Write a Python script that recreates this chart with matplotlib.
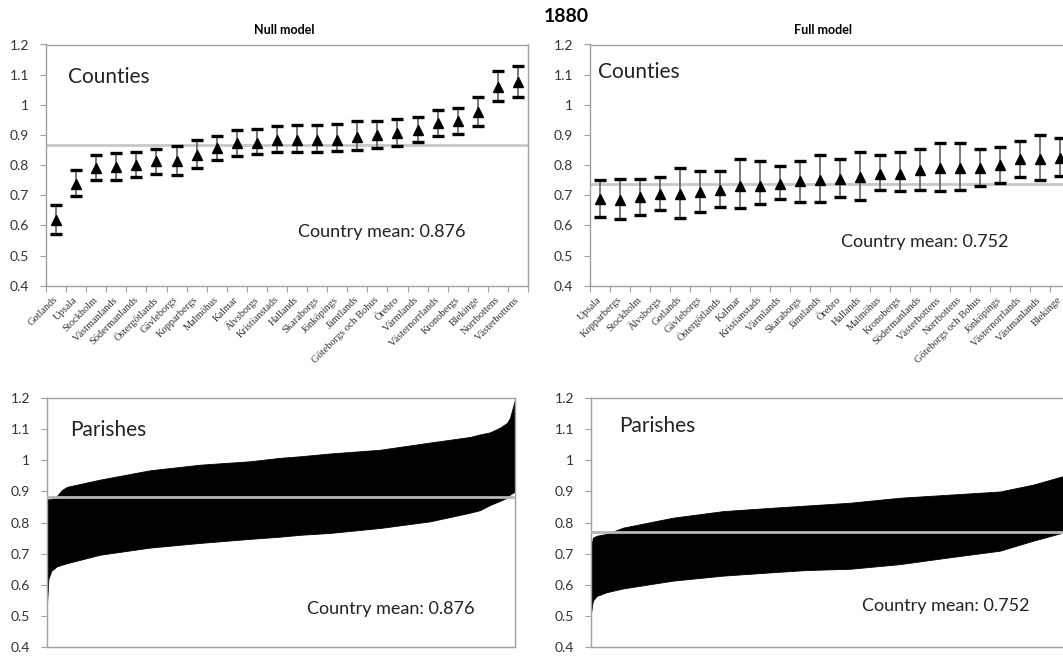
import matplotlib
matplotlib.use("Agg")
import matplotlib.pyplot as plt
import numpy as np

# ---------------- data ----------------
null_counties = ["Gotlands", "Upsala", "Stockholm", "Västmanlands", "Södermanlands",
                 "Östergötlands", "Gävleborgs", "Kopparbergs", "Malmöhus", "Kalmar",
                 "Älvsborgs", "Kristianstads", "Hallands", "Skaraborgs", "Jönköpings",
                 "Jämtlands", "Göteborgs och Bohus", "Örebro", "Värmlands",
                 "Västernorrlands", "Kronobergs", "Blekinge", "Norrbottens", "Västerbottens"]
null_mid = [0.618, 0.738, 0.790, 0.795, 0.801, 0.812, 0.812, 0.834, 0.856, 0.873,
            0.873, 0.884, 0.884, 0.884, 0.884, 0.892, 0.900, 0.908, 0.917, 0.940,
            0.945, 0.975, 1.058, 1.074]
null_hi = [0.668, 0.784, 0.834, 0.840, 0.845, 0.854, 0.862, 0.882, 0.898, 0.915,
           0.920, 0.931, 0.934, 0.934, 0.937, 0.945, 0.947, 0.953, 0.958, 0.984,
           0.991, 1.025, 1.111, 1.128]
null_lo = [0.572, 0.699, 0.749, 0.751, 0.759, 0.770, 0.768, 0.792, 0.818, 0.829,
           0.837, 0.845, 0.845, 0.845, 0.847, 0.851, 0.858, 0.862, 0.875, 0.895,
           0.903, 0.931, 1.011, 1.026]

full_counties = ["Upsala", "Kopparbergs", "Stockholm", "Älvsborgs", "Gotlands",
                 "Gävleborgs", "Östergötlands", "Kalmar", "Kristianstads", "Värmlands",
                 "Skaraborgs", "Jämtlands", "Örebro", "Hallands", "Malmöhus",
                 "Kronobergs", "Södermanlands", "Västerbottens", "Norrbottens",
                 "Göteborgs och Bohus", "Jönköpings", "Västernorrlands",
                 "Västmanlands", "Blekinge"]
full_mid = [0.686, 0.684, 0.693, 0.704, 0.704, 0.711, 0.717, 0.730, 0.730, 0.737,
            0.747, 0.751, 0.753, 0.761, 0.770, 0.772, 0.783, 0.792, 0.792, 0.792,
            0.799, 0.819, 0.819, 0.825]
full_hi = [0.750, 0.754, 0.754, 0.761, 0.792, 0.781, 0.781, 0.819, 0.813, 0.796,
           0.814, 0.833, 0.819, 0.844, 0.833, 0.842, 0.852, 0.872, 0.872, 0.855,
           0.860, 0.880, 0.899, 0.890]
full_lo = [0.628, 0.620, 0.635, 0.651, 0.623, 0.646, 0.662, 0.658, 0.670, 0.687,
           0.678, 0.678, 0.693, 0.684, 0.717, 0.714, 0.719, 0.715, 0.719, 0.732,
           0.741, 0.761, 0.750, 0.763]

# parish intervals, envelope read at percentile rank positions
null_par_rank = [0, 0.3, 0.9, 2.1, 3.2, 4.3, 11.3, 22.0, 32.7, 43.4, 49.8, 54.1, 60.5,
                 71.2, 81.8, 90.4, 92.5, 94.7, 96.8, 98.3, 98.9, 100]
null_par_hi = [0.875, 0.875, 0.875, 0.885, 0.905, 0.915, 0.938, 0.968, 0.986, 0.997,
               1.008, 1.013, 1.022, 1.034, 1.057, 1.075, 1.083, 1.090, 1.105, 1.120,
               1.135, 1.195]
null_par_lo = [0.540, 0.620, 0.645, 0.660, 0.665, 0.670, 0.697, 0.720, 0.735, 0.748,
               0.755, 0.761, 0.767, 0.783, 0.804, 0.832, 0.840, 0.857, 0.870, 0.880,
               0.890, 0.900]

full_par_rank = [0, 0.4, 1.2, 3.3, 6.7, 17.1, 27.5, 37.9, 45.0, 54.0, 64.4, 74.8,
                 85.2, 92.1, 98.3]
full_par_hi = [0.720, 0.752, 0.758, 0.764, 0.784, 0.816, 0.837, 0.848, 0.855, 0.864,
               0.880, 0.890, 0.900, 0.922, 0.949]
full_par_lo = [0.510, 0.550, 0.565, 0.577, 0.589, 0.614, 0.630, 0.641, 0.648, 0.652,
               0.667, 0.689, 0.710, 0.742, 0.768]

mean_lines = {"null_c": 0.867, "full_c": 0.736, "null_p": 0.881, "full_p": 0.771}
mean_labels = {"null": "Country mean: 0.876", "full": "Country mean: 0.752"}
yticks = [0.4, 0.5, 0.6, 0.7, 0.8, 0.9, 1.0, 1.1, 1.2]
ytick_labels = ["0.4", "0.5", "0.6", "0.7", "0.8", "0.9", "1", "1.1", "1.2"]

# ---------------- figure ----------------
W, H = 1063, 659
fig = plt.figure(figsize=(W / 100, H / 100), dpi=100)
SANS = ["Lato", "DejaVu Sans"]
SERIF = ["Liberation Serif", "DejaVu Serif"]
AXC = "#a0a0a0"


def px_axes(x0, y0, x1, y1):
    return fig.add_axes([x0 / W, 1 - y1 / H, (x1 - x0) / W, (y1 - y0) / H])


def style(ax, top=True, right=True):
    ax.set_ylim(0.4, 1.2)
    ax.set_yticks(yticks)
    ax.set_yticklabels(ytick_labels, fontsize=10, family=SANS, color="#333333")
    for s in ["left", "bottom", "top", "right"]:
        ax.spines[s].set_color(AXC)
        ax.spines[s].set_linewidth(1.0)
    ax.spines["top"].set_visible(top)
    ax.spines["right"].set_visible(right)
    ax.tick_params(axis="y", length=4, color=AXC, pad=8, direction="out")


def county_panel(ax, names, mid, lo, hi, mline, top=True, right=True):
    n = len(names)
    x = np.arange(n)
    ax.axhline(mline, color="#c8c8c8", lw=2, zorder=1)
    ax.vlines(x, lo, hi, color="#606060", lw=1.2, zorder=2)
    yerr = [np.array(mid) - np.array(lo), np.array(hi) - np.array(mid)]
    ax.errorbar(x, mid, yerr=yerr, fmt="^", color="black", markersize=6.5,
                ecolor="black", elinewidth=0, capsize=4.2, capthick=2.4, zorder=3)
    ax.set_xlim(-0.5, n - 0.5)
    ax.set_xticks(np.arange(n + 1) - 0.5)
    ax.set_xticklabels([])
    ax.set_xticks(x, minor=True)
    ax.set_xticklabels(names, minor=True, rotation=45, ha="right", va="center",
                       rotation_mode="anchor", fontsize=7.5, family=SERIF,
                       color="#333333")
    ax.tick_params(axis="x", which="major", length=4, color=AXC)
    ax.tick_params(axis="x", which="minor", length=0, pad=9)
    style(ax, top, right)


def parish_panel(ax, rank, lo, hi, mline, top=True, right=True):
    ax.fill_between(rank, lo, hi, color="black", lw=0.6, edgecolor="black", zorder=2)
    ax.axhline(mline, color="#b8b8b8", lw=2, zorder=3)
    ax.set_xlim(0, 100)
    ax.set_xticks([])
    style(ax, top, right)


# top-left
ax1 = px_axes(46, 44.5, 528, 285.7)
county_panel(ax1, null_counties, null_mid, null_lo, null_hi, mean_lines["null_c"])
ax1.text(0.046, 0.867, "Counties", transform=ax1.transAxes, fontsize=15,
         family=SANS, va="center", ha="left", color="#222222")
ax1.text(0.696, 0.223, mean_labels["null"], transform=ax1.transAxes, fontsize=13,
         family=SANS, va="center", ha="center", color="#222222")

# top-right
ax2 = px_axes(590, 44.5, 1070, 285.7)
county_panel(ax2, full_counties, full_mid, full_lo, full_hi, mean_lines["full_c"])
ax2.text(0.017, 0.884, "Counties", transform=ax2.transAxes, fontsize=15,
         family=SANS, va="center", ha="left", color="#222222")
ax2.text(0.698, 0.18, mean_labels["full"], transform=ax2.transAxes, fontsize=13,
         family=SANS, va="center", ha="center", color="#222222")

# bottom-left
ax3 = px_axes(47, 398, 515, 647.3)
parish_panel(ax3, null_par_rank, null_par_lo, null_par_hi, mean_lines["null_p"])
ax3.text(0.049, 0.872, "Parishes", transform=ax3.transAxes, fontsize=15,
         family=SANS, va="center", ha="left", color="#222222")
ax3.text(0.735, 0.154, mean_labels["null"], transform=ax3.transAxes, fontsize=13,
         family=SANS, va="center", ha="center", color="#222222")

# bottom-right
ax4 = px_axes(591, 398, 1071, 647.3)
parish_panel(ax4, full_par_rank, full_par_lo, full_par_hi, mean_lines["full_p"])
ax4.text(0.058, 0.888, "Parishes", transform=ax4.transAxes, fontsize=15,
         family=SANS, va="center", ha="left", color="#222222")
ax4.text(0.74, 0.167, mean_labels["full"], transform=ax4.transAxes, fontsize=13,
         family=SANS, va="center", ha="center", color="#222222")

# titles
fig.text(566 / W, 1 - 17 / H, "1880", fontsize=14, fontweight="bold", family=SANS,
         ha="center", va="center")
fig.text(284 / W, 1 - 30 / H, "Null model", fontsize=9, fontweight="bold", family=SANS,
         ha="center", va="center")
fig.text(823 / W, 1 - 30 / H, "Full model", fontsize=9, fontweight="bold", family=SANS,
         ha="center", va="center")

fig.savefig("out.png", dpi=100)
